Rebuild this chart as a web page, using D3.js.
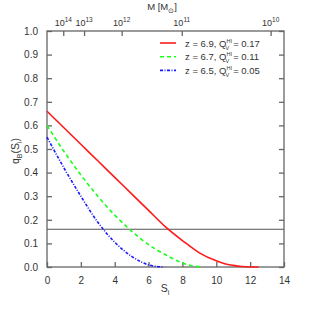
<!DOCTYPE html>
<html>
<head>
<script src="https://cdn.jsdelivr.net/npm/d3@7"></script>
<style>
  body { margin: 0; background: #fff; overflow: hidden; }
  svg { display: block; }
  text { font-family: "Liberation Sans", Arial, sans-serif; fill: #333; }
</style>
<script>
// curves q_B(S_i)
const redS   = [0, 1, 2, 3, 4, 5, 6, 7, 8, 9, 10, 10.5, 11, 11.5, 12, 12.5]
const redQ   = [0.66, 0.59, 0.52, 0.45, 0.38, 0.31, 0.24, 0.17, 0.112, 0.06, 0.026, 0.014, 0.007, 0.002, 0.0, 0.0]
const greenS = [0, 1, 2, 3, 4, 5, 6, 7, 7.5, 8, 8.5, 9, 9.2]
const greenQ = [0.60, 0.49, 0.39, 0.30, 0.22, 0.152, 0.095, 0.052, 0.033, 0.017, 0.006, 0.001, 0.0]
const blueS  = [0, 1, 2, 3, 4, 5, 5.5, 6, 6.5, 6.9]
const blueQ  = [0.55, 0.42, 0.30, 0.19, 0.105, 0.045, 0.024, 0.009, 0.002, 0.0]
const threshold = 0.16

const legendLabels = [['6.9', '0.17'], ['6.7', '0.11'], ['6.5', '0.05']]
const topTickS = [0.96, 2.19, 4.41, 7.96, 13.21]
const topTickExp = ['14', '13', '12', '11', '10']

window.addEventListener('DOMContentLoaded', () => {
  const svg = d3.select('#mainsvg')
  const margin = {top: 31, right: 31, bottom: 48, left: 47}
  const innerWidth = 315 - margin.left - margin.right
  const innerHeight = 315 - margin.top - margin.bottom
  const g = svg.append('g').attr('transform', `translate(${margin.left}, ${margin.top})`)

  const x = d3.scaleLinear().domain([0, 14]).range([0, innerWidth])
  const y = d3.scaleLinear().domain([0, 1]).range([innerHeight, 0])
  const axisColor = '#666'

  // axes with inward ticks
  const styleAxis = sel => {
    sel.select('.domain').remove()
    sel.selectAll('line').attr('stroke', axisColor).attr('stroke-width', 1.3)
    sel.selectAll('text').attr('font-size', 10).attr('fill', '#333')
  }
  g.append('g').attr('transform', `translate(0, ${innerHeight})`)
    .call(d3.axisBottom(x).tickValues(d3.range(0, 15, 2)).tickSizeInner(-5).tickPadding(10).tickFormat(d3.format('d')))
    .call(styleAxis)
  g.append('g')
    .call(d3.axisLeft(y).tickValues(d3.range(0, 1.01, 0.1)).tickSizeInner(-5).tickPadding(9).tickFormat(d3.format('.1f')))
    .call(styleAxis)
  g.append('g').attr('transform', `translate(${innerWidth}, 0)`)
    .call(d3.axisRight(y).tickValues(d3.range(0, 1.01, 0.1)).tickSizeInner(-5))
    .call(styleAxis)
    .call(sel => sel.selectAll('text').remove())
  g.append('g')
    .call(d3.axisTop(x).tickValues(topTickS).tickSizeInner(-5))
    .call(styleAxis)
    .call(sel => sel.selectAll('text').remove())

  // top tick labels 10^n
  g.selectAll('.toplab').data(topTickS).join('text')
    .attr('class', 'toplab')
    .attr('x', d => x(d))
    .attr('y', -5)
    .attr('text-anchor', 'middle')
    .attr('font-size', 9)
    .each(function(d, i) {
      const t = d3.select(this)
      t.append('tspan').text('10')
      t.append('tspan').attr('dy', -4).attr('font-size', 6.5).text(topTickExp[i])
    })

  // frame
  g.append('rect').attr('width', innerWidth).attr('height', innerHeight)
    .attr('fill', 'none').attr('stroke', axisColor).attr('stroke-width', 1.3)

  // threshold line
  g.append('line').attr('x1', 0).attr('x2', innerWidth)
    .attr('y1', y(threshold)).attr('y2', y(threshold))
    .attr('stroke', '#555').attr('stroke-width', 1.1)

  const line = d3.line().x(d => x(d[0])).y(d => y(d[1])).curve(d3.curveMonotoneX)
  const series = [
    {s: redS, q: redQ, color: '#ff1a1a', dash: null},
    {s: greenS, q: greenQ, color: '#1aff1a', dash: '4,3'},
    {s: blueS, q: blueQ, color: '#1a1aff', dash: '3,1.5,1,1.5'}
  ]
  g.selectAll('.curve').data(series).join('path')
    .attr('class', 'curve')
    .attr('d', d => line(d.s.map((v, i) => [v, d.q[i]])))
    .attr('fill', 'none')
    .attr('stroke', d => d.color)
    .attr('stroke-width', 1.6)
    .attr('stroke-dasharray', d => d.dash)

  // legend
  const leg = g.append('g').attr('transform', 'translate(113, 12)')
  series.forEach((d, i) => {
    const row = leg.append('g').attr('transform', `translate(0, ${i * 13.7})`)
    row.append('line').attr('x1', 0).attr('x2', 16)
      .attr('stroke', d.color).attr('stroke-width', 1.6).attr('stroke-dasharray', d.dash)
    const t = row.append('text').attr('x', 25).attr('y', 3.5).attr('font-size', 9.5)
    t.append('tspan').text(`z = ${legendLabels[i][0]},  Q`)
    t.append('tspan').attr('dy', -4).attr('font-size', 5.5).text('HI')
    t.append('tspan').attr('dx', -6.5).attr('dy', 7).attr('font-size', 5.5).text('V')
    t.append('tspan').attr('dx', 4).attr('dy', -3).text(`= ${legendLabels[i][1]}`)
  })

  // axis titles
  const xt = svg.append('text').attr('x', 165).attr('y', 292).attr('text-anchor', 'middle').attr('font-size', 10.5)
  xt.append('tspan').text('S')
  xt.append('tspan').attr('dy', 3).attr('font-size', 7).text('i')

  const tt = svg.append('text').attr('x', 162).attr('y', 10).attr('text-anchor', 'middle').attr('font-size', 9.5)
  tt.append('tspan').text('M [M')
  tt.append('tspan').attr('dy', 2.5).attr('font-size', 7).text('\u2299')
  tt.append('tspan').attr('dy', -2.5).text(']')

  const yt = svg.append('text').attr('transform', 'translate(19, 151) rotate(-90)').attr('text-anchor', 'middle').attr('font-size', 10.5)
  yt.append('tspan').text('q')
  yt.append('tspan').attr('dy', 3).attr('font-size', 7).text('B')
  yt.append('tspan').attr('dy', -3).text('(S')
  yt.append('tspan').attr('dy', 3).attr('font-size', 7).text('i')
  yt.append('tspan').attr('dy', -3).text(')')
})
</script>
</head>
<body>
<svg width="315" height="315" id="mainsvg"></svg>
</body>
</html>
